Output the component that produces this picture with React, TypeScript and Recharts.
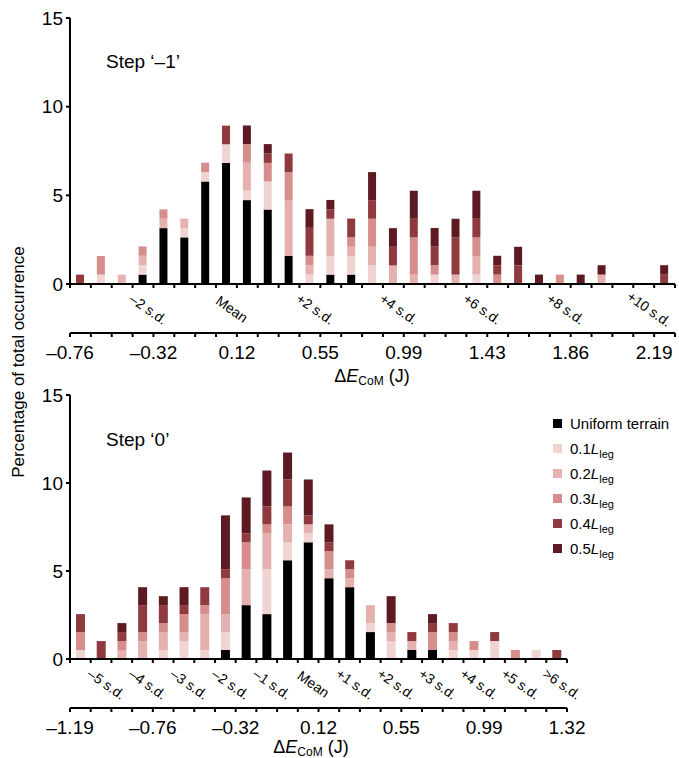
import React from 'react';
import { BarChart, Bar, XAxis, YAxis, Legend } from 'recharts';

// Step '-1' : percentage of occurrence per ΔE_CoM bin
const TOP_UNIFORM = [0, 0, 0, 0.53, 3.15, 2.63, 5.78, 6.83, 4.73, 4.2, 1.58, 0, 0.53, 0.53, 0, 0, 0, 0, 0, 0, 0, 0, 0, 0, 0, 0, 0, 0, 0];
const TOP_L1 = [0, 0.53, 0, 0.53, 0, 0.53, 0.53, 1.05, 0.53, 1.58, 0, 0.53, 1.05, 1.05, 1.05, 0, 0, 0.53, 0, 0.53, 0, 0, 0, 0, 0, 0, 0, 0, 0];
const TOP_L2 = [0, 0, 0.53, 0.53, 0.53, 0.53, 0, 0, 1.58, 0, 3.15, 0.53, 2.1, 0.53, 1.05, 1.05, 0.53, 0, 0.53, 1.05, 0, 0, 0, 0, 0, 0.53, 0, 0, 0];
const TOP_L3 = [0, 1.05, 0, 0.53, 0.53, 0, 0.53, 0, 1.05, 1.05, 1.58, 0.53, 0, 0.53, 1.58, 0, 2.1, 0.53, 0, 1.05, 0.53, 0, 0, 0.53, 0, 0, 0, 0, 0];
const TOP_L4 = [0.53, 0, 0, 0, 0, 0, 0, 1.05, 0, 0.53, 1.05, 1.58, 0.53, 1.05, 1.05, 1.05, 1.05, 1.05, 2.1, 1.05, 0.53, 1.05, 0, 0, 0, 0, 0, 0, 0.53];
const TOP_L5 = [0, 0, 0, 0, 0, 0, 0, 0, 1.05, 0.53, 0, 1.05, 0.53, 0, 1.58, 1.05, 1.58, 1.05, 1.05, 1.58, 0.53, 1.05, 0.53, 0, 0.53, 0.53, 0, 0, 0.53];

// Step '0'
const BOT_UNIFORM = [0, 0, 0, 0, 0, 0, 0, 0.51, 3.06, 2.55, 5.61, 6.63, 4.59, 4.08, 1.53, 0, 0.51, 0.51, 0, 0, 0, 0, 0, 0];
const BOT_L1 = [0.51, 0, 0, 0, 0.51, 1.02, 0.51, 1.02, 0, 2.55, 1.02, 0.51, 0, 0, 0.51, 1.02, 0, 0, 0.51, 0.51, 1.02, 0, 0.51, 0];
const BOT_L2 = [0, 0, 0.51, 1.02, 1.02, 0.51, 2.04, 1.02, 2.04, 2.04, 1.02, 0.51, 0.51, 0.51, 1.02, 0.51, 0.51, 0, 0.51, 0, 0, 0, 0, 0];
const BOT_L3 = [1.02, 0, 0.51, 0.51, 0.51, 1.02, 0.51, 2.04, 1.53, 0.51, 1.02, 0, 1.02, 0.51, 0, 0.51, 0, 1.02, 0.51, 0.51, 0, 0.51, 0, 0];
const BOT_L4 = [1.02, 1.02, 0.51, 1.53, 1.02, 0.51, 1.02, 0.51, 0.51, 1.02, 1.53, 0.51, 0.51, 0.51, 0, 0, 0.51, 0.51, 0.51, 0, 0.51, 0, 0, 0.51];
const BOT_L5 = [0, 0, 0.51, 1.02, 0.51, 1.02, 0, 3.06, 2.04, 2.04, 1.53, 2.04, 1.02, 0, 0, 1.53, 0, 0.51, 0, 0, 0, 0, 0, 0];

const TOP_SD_LABELS = ['–2 s.d.', 'Mean', '+2 s.d.', '+4 s.d.', '+6 s.d.', '+8 s.d.', '+10 s.d.'];
const TOP_J_LABELS = ['–0.76', '–0.32', '0.12', '0.55', '0.99', '1.43', '1.86', '2.19'];
const BOT_SD_LABELS = ['–5 s.d.', '–4 s.d.', '–3 s.d.', '–2 s.d.', '–1 s.d.', 'Mean', '+1 s.d.', '+2 s.d.', '+3 s.d.', '+4 s.d.', '+5 s.d.', '>6 s.d.'];
const BOT_J_LABELS = ['–1.19', '–0.76', '–0.32', '0.12', '0.55', '0.99', '1.32'];

const Y_TICKS = [0, 5, 10, 15];
const LEVELS = ['0.1', '0.2', '0.3', '0.4', '0.5'];

const SERIES = [
  { key: 'u', color: '#000000' },
  { key: 'l1', color: '#f0d4d2' },
  { key: 'l2', color: '#e5b1b0' },
  { key: 'l3', color: '#d68e8d' },
  { key: 'l4', color: '#8f3a3e' },
  { key: 'l5', color: '#5d1a22' },
];

const toRows = (u: number[], l1: number[], l2: number[], l3: number[], l4: number[], l5: number[]) =>
  u.map((v, i) => ({ bin: i, u: v, l1: l1[i], l2: l2[i], l3: l3[i], l4: l4[i], l5: l5[i] }));

const topData = toRows(TOP_UNIFORM, TOP_L1, TOP_L2, TOP_L3, TOP_L4, TOP_L5);
const botData = toRows(BOT_UNIFORM, BOT_L1, BOT_L2, BOT_L3, BOT_L4, BOT_L5);

const LegendList = () => (
  <div>
    {SERIES.map((s, i) => (
      <div key={s.key} style={{ display: 'flex', alignItems: 'center', height: 25, fontSize: 15, color: '#000', whiteSpace: 'nowrap' }}>
        <span style={{ display: 'inline-block', width: 9, height: 9, background: s.color, marginRight: 8 }} />
        {i === 0 ? (
          'Uniform terrain'
        ) : (
          <span>
            {LEVELS[i - 1]}
            <i>L</i>
            <span style={{ fontSize: 11, position: 'relative', top: 4 }}>leg</span>
          </span>
        )}
      </div>
    ))}
  </div>
);

interface PanelProps {
  data: any[];
  height: number;
  marginTop: number;
  marginRight: number;
  barSize: number;
  sdLabels: string[];
  sdFirst: number;
  sdEvery: number;
  jLabels: string[];
  jEvery: number;
  legend?: boolean;
}

const Y_AXIS_W = 70;

function Panel({ data, height, marginTop, marginRight, barSize, sdLabels, sdFirst, sdEvery, jLabels, jEvery, legend }: PanelProps) {
  const n = data.length;
  const bw = (679 - marginRight - Y_AXIS_W) / n;
  const line = { stroke: '#000', strokeWidth: 2 };

  const sdAt = (b: number) => {
    const k = (b - sdFirst) / sdEvery;
    return k >= 0 && Number.isInteger(k) && k < sdLabels.length ? sdLabels[k] : null;
  };
  const jAt = (b: number) => {
    const k = b / jEvery;
    return Number.isInteger(k) && k < jLabels.length ? jLabels[k] : null;
  };

  // ticks sit on bin edges; the category tick is at the bin centre
  const edgeTick = (kind: 'sd' | 'num') => (p: any) => {
    const i = p.payload.value;
    const edges = i === n - 1 ? [i, i + 1] : [i];
    return (
      <g>
        {edges.map((b) => {
          const bx = p.x + (b - i - 0.5) * bw;
          const label = kind === 'sd' ? sdAt(b) : jAt(b);
          return (
            <g key={b}>
              <line x1={bx} x2={bx} y1={p.y} y2={p.y + 4} stroke="#000" strokeWidth={2} />
              {label && kind === 'sd' && (
                <text transform={`translate(${bx - 5},${p.y + 25}) rotate(35)`} textAnchor="middle" dominantBaseline="central" fontSize={14} fill="#000">
                  {label}
                </text>
              )}
              {label && kind === 'num' && (
                <text x={bx} y={p.y + 26} textAnchor="middle" fontSize={19} fill="#000">
                  {label}
                </text>
              )}
            </g>
          );
        })}
      </g>
    );
  };

  return (
    <BarChart width={679} height={height} data={data} margin={{ top: marginTop, right: marginRight, bottom: 0, left: 0 }} barCategoryGap={0}>
      <XAxis xAxisId="b_num" dataKey="bin" type="category" interval={0} height={50} axisLine={line} tickLine={false} tickSize={0} tickMargin={0} tick={edgeTick('num')} />
      <XAxis xAxisId="a_sd" dataKey="bin" type="category" interval={0} height={49} axisLine={line} tickLine={false} tickSize={0} tickMargin={0} tick={edgeTick('sd')} />
      <YAxis
        width={Y_AXIS_W}
        type="number"
        domain={[0, 15]}
        ticks={Y_TICKS}
        interval={0}
        axisLine={line}
        tickLine={line}
        tickSize={4}
        tickMargin={3}
        tick={{ fontSize: 19, fill: '#000' }}
      />
      {SERIES.map((s) => (
        <Bar key={s.key} xAxisId="a_sd" dataKey={s.key} stackId="a" fill={s.color} barSize={barSize} isAnimationActive={false} />
      ))}
      {legend && (
        <Legend
          layout="vertical"
          verticalAlign="middle"
          align="center"
          content={<LegendList />}
          wrapperStyle={{ left: 553, top: 31, width: 126 }}
        />
      )}
    </BarChart>
  );
}

const AxisTitle = ({ x, y }: { x: number; y: number }) => (
  <text x={x} y={y} textAnchor="middle" fontSize={18} fill="#000">
    Δ<tspan fontStyle="italic">E</tspan>
    <tspan fontSize={12} dy={3}>CoM</tspan>
    <tspan dy={-3}> (J)</tspan>
  </text>
);

export default function App() {
  return (
    <div style={{ position: 'absolute', left: 0, top: 0, width: 679, height: 758, background: '#fff', fontFamily: '"Liberation Sans", Arial, sans-serif' }}>
      <div style={{ position: 'absolute', left: 0, top: 0 }}>
        <Panel data={topData} height={383} marginTop={18} marginRight={4} barSize={8} sdLabels={TOP_SD_LABELS} sdFirst={4} sdEvery={4} jLabels={TOP_J_LABELS} jEvery={4} />
      </div>
      <div style={{ position: 'absolute', left: 0, top: 380 }}>
        <Panel data={botData} height={378} marginTop={15} marginRight={112} barSize={9} sdLabels={BOT_SD_LABELS} sdFirst={2} sdEvery={2} jLabels={BOT_J_LABELS} jEvery={4} legend />
      </div>
      <svg width={679} height={758} style={{ position: 'absolute', left: 0, top: 0, pointerEvents: 'none' }}>
        <text transform="translate(24,362) rotate(-90)" textAnchor="middle" fontSize={17} fill="#000">
          Percentage of total occurrence
        </text>
        <text x={106} y={68} fontSize={19} fill="#000">Step ‘–1’</text>
        <text x={106} y={446} fontSize={19} fill="#000">Step ‘0’</text>
        <AxisTitle x={372} y={382} />
        <AxisTitle x={311} y={753} />
      </svg>
    </div>
  );
}
